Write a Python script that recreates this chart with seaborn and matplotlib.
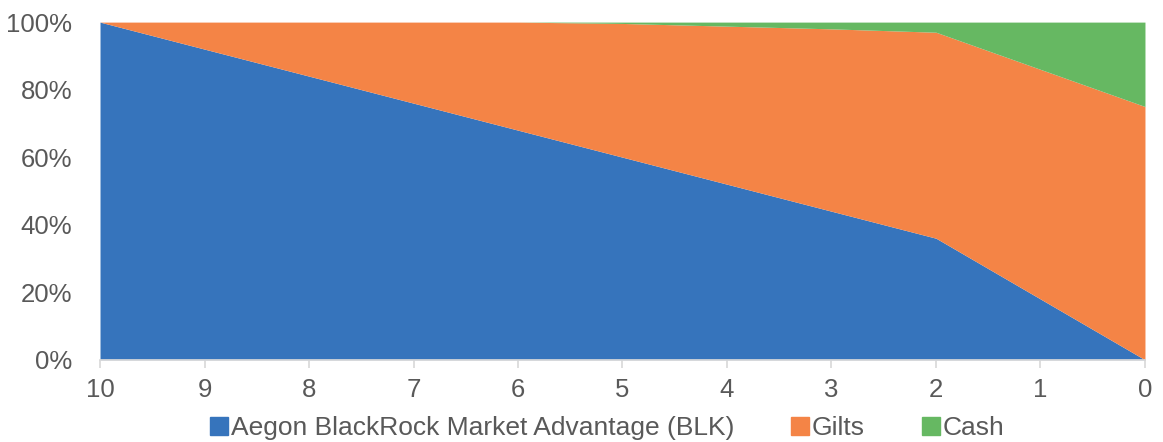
import numpy as np
import matplotlib
matplotlib.use("Agg")
import matplotlib.pyplot as plt
import seaborn as sns
from matplotlib.ticker import PercentFormatter
from matplotlib.lines import Line2D

years_to_retirement = [10, 9, 8, 7, 6, 5, 4, 3, 2, 1, 0]
blk = [100, 92, 84, 76, 68, 60, 52, 44, 36, 18, 0]
cash = [0, 0, 0, 0, 0, 0.4, 1.2, 2.0, 3.0, 14.0, 25.0]
gilts = [100 - b - c for b, c in zip(blk, cash)]

labels = ["Aegon BlackRock Market Advantage (BLK)", "Gilts", "Cash"]
colors = ["#3674bc", "#f48446", "#66b862"]

sns.set_theme(style="white")
plt.rcParams["font.family"] = ["Liberation Sans", "DejaVu Sans"]

fig = plt.figure(figsize=(11.63, 4.42), dpi=100)
ax = fig.add_axes([0.086, 0.186, 0.8985, 0.764])

ax.stackplot(years_to_retirement, blk, gilts, cash, colors=colors, linewidth=0)

ax.set_xlim(10, 0)
ax.set_ylim(0, 100)
ax.set_xticks(years_to_retirement)
ax.set_yticks([0, 20, 40, 60, 80, 100])
ax.yaxis.set_major_formatter(PercentFormatter(decimals=0))

for s in ["top", "right", "left"]:
    ax.spines[s].set_visible(False)
ax.spines["bottom"].set_color("#d9d9d9")
ax.tick_params(axis="x", bottom=True, length=6, color="#d9d9d9",
               labelsize=18.5, labelcolor="#595959", pad=7)
ax.tick_params(axis="y", left=False, labelsize=18.5, labelcolor="#595959", pad=14)

handles = [Line2D([], [], marker="s", linestyle="", markersize=13,
                  markerfacecolor=c, markeredgecolor=c) for c in colors]
fig.legend(handles, labels, loc="lower center", bbox_to_anchor=(0.521, -0.05),
           ncol=3, frameon=False, fontsize=19, labelcolor="#595959",
           handletextpad=0.0, columnspacing=2.05, handlelength=0.9)

fig.savefig("out.png", dpi=100)
